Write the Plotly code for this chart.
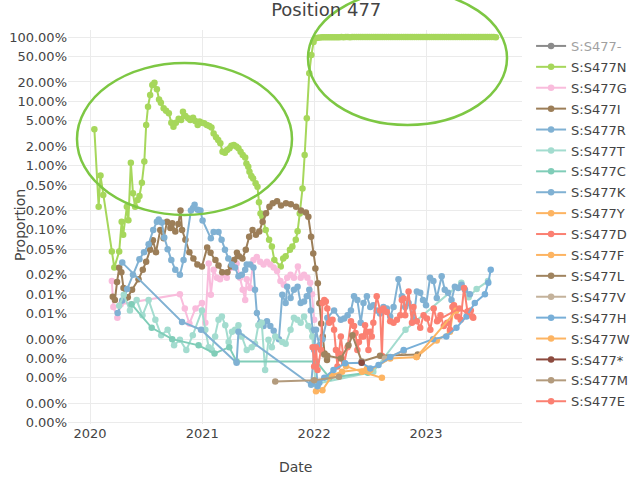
import plotly.graph_objects as go

# ---- data: sampling dates and proportion of sequences carrying each S477 variant ----
S477_dash_dates = ["2022-03-01", "2022-09-01"]
S477_dash_vals = [5e-6, 4e-6]

S477N_rise_dates = [
    "2020-01-15", "2020-01-29", "2020-02-04", "2020-02-13", "2020-03-12", "2020-03-20", "2020-04-05",
    "2020-04-13", "2020-04-18", "2020-04-30", "2020-05-05", "2020-05-13", "2020-05-20", "2020-05-27",
    "2020-06-04", "2020-06-10", "2020-06-18", "2020-06-26", "2020-07-02", "2020-07-08", "2020-07-15",
    "2020-07-22", "2020-07-29", "2020-08-06", "2020-08-13", "2020-08-19", "2020-08-28", "2020-09-05",
    "2020-09-14", "2020-09-22", "2020-09-29", "2020-10-07", "2020-10-16", "2020-10-24", "2020-10-30",
    "2020-11-07", "2020-11-16", "2020-11-23", "2020-12-02", "2020-12-09", "2020-12-17", "2020-12-23",
    "2020-12-31", "2021-01-07", "2021-01-16", "2021-01-24", "2021-01-31", "2021-02-07", "2021-02-15",
    "2021-02-22", "2021-03-01", "2021-03-08", "2021-03-16", "2021-03-23", "2021-03-31", "2021-04-06",
    "2021-04-14", "2021-04-22", "2021-04-29", "2021-05-06", "2021-05-13", "2021-05-21", "2021-05-25",
    "2021-05-31", "2021-06-04", "2021-06-10", "2021-06-16", "2021-06-24", "2021-06-30", "2021-07-05",
    "2021-07-10", "2021-07-16", "2021-07-27", "2021-08-07", "2021-08-16", "2021-08-24", "2021-09-14",
    "2021-09-22", "2021-09-30", "2021-10-14", "2021-10-22", "2021-11-02", "2021-11-08", "2021-11-15",
    "2021-11-24", "2021-12-01", "2021-12-08", "2021-12-16", "2021-12-23", "2021-12-30",
]
S477N_rise_vals = [
    0.0367, 0.0023, 0.0070, 0.0035, 0.00046, 0.00026, 0.00046,
    0.00134, 0.00084, 0.00229, 0.00141, 0.0111, 0.0037, 0.00229,
    0.00292, 0.00337, 0.0054, 0.0116, 0.0428, 0.0824, 0.125,
    0.179, 0.195, 0.154, 0.107, 0.095, 0.078, 0.071,
    0.065, 0.0465, 0.0403, 0.0465, 0.0537, 0.0512, 0.0689,
    0.0590, 0.0544, 0.0512, 0.0557, 0.0495, 0.0428, 0.0483,
    0.0465, 0.0454, 0.0428, 0.0412, 0.0393, 0.0316, 0.0276,
    0.0250, 0.0222, 0.0164, 0.0159, 0.0175, 0.0186, 0.0203,
    0.0210, 0.0198, 0.0186, 0.0164, 0.0146, 0.0134, 0.0108,
    0.0096, 0.0080, 0.0069, 0.0063, 0.0053, 0.0047, 0.0027,
    0.0018, 0.0016, 0.0010, 0.00070, 0.00055, 0.00034, 0.00027,
    0.00036, 0.00039, 0.00049, 0.00055, 0.00070, 0.00095, 0.0018,
    0.0044, 0.0146, 0.0545, 0.272, 0.525, 0.836,
]
# weekly samples once S477N is fixed
S477N_fixed_dates = [
    "2022-01-06", "2022-01-13", "2022-01-20", "2022-01-27", "2022-02-03", "2022-02-10", "2022-02-17",
    "2022-02-24", "2022-03-03", "2022-03-10", "2022-03-17", "2022-03-24", "2022-03-31", "2022-04-07",
    "2022-04-14", "2022-04-21", "2022-04-28", "2022-05-05", "2022-05-12", "2022-05-19", "2022-05-26",
    "2022-06-02", "2022-06-09", "2022-06-16", "2022-06-23", "2022-06-30", "2022-07-07", "2022-07-14",
    "2022-07-21", "2022-07-28", "2022-08-04", "2022-08-11", "2022-08-18", "2022-08-25", "2022-09-01",
    "2022-09-08", "2022-09-15", "2022-09-22", "2022-09-29", "2022-10-06", "2022-10-13", "2022-10-20",
    "2022-10-27", "2022-11-03", "2022-11-10", "2022-11-17", "2022-11-24", "2022-12-01", "2022-12-08",
    "2022-12-15", "2022-12-22", "2022-12-29",
    "2023-01-05", "2023-01-12", "2023-01-19", "2023-01-26", "2023-02-02", "2023-02-09", "2023-02-16",
    "2023-02-23", "2023-03-02", "2023-03-09", "2023-03-16", "2023-03-23", "2023-03-30", "2023-04-06",
    "2023-04-13", "2023-04-20", "2023-04-27", "2023-05-04", "2023-05-11", "2023-05-18", "2023-05-25",
    "2023-06-01", "2023-06-08", "2023-06-15", "2023-06-22", "2023-06-29", "2023-07-06", "2023-07-13",
    "2023-07-20", "2023-07-27", "2023-08-03", "2023-08-10", "2023-08-17",
]
S477N_fixed_vals = [
    0.955, 0.978, 0.986, 0.990, 0.992, 0.993, 0.994, 0.994, 0.995, 0.995,
    0.994, 0.995, 0.996, 0.995, 0.996, 0.996, 0.995, 0.996, 0.997, 0.996,
    0.996, 0.997, 0.996, 0.997, 0.997, 0.996, 0.997, 0.997, 0.996, 0.997,
    0.997, 0.998, 0.997, 0.997, 0.996, 0.997, 0.997, 0.998, 0.997, 0.997,
    0.996, 0.997, 0.997, 0.998, 0.997, 0.996, 0.997, 0.997, 0.996, 0.997,
    0.997, 0.996,
    0.997, 0.996, 0.997, 0.997, 0.998, 0.997, 0.996, 0.997, 0.997, 0.996,
    0.997, 0.997, 0.998, 0.997, 0.997, 0.996, 0.997, 0.997, 0.996, 0.997,
    0.997, 0.998, 0.997, 0.996, 0.997, 0.997, 0.996, 0.997, 0.997, 0.996,
    0.997, 0.996, 0.995,
]
S477N_dates = S477N_rise_dates + S477N_fixed_dates
S477N_vals = S477N_rise_vals + S477N_fixed_vals

S477G_dates = [
    "2020-03-12", "2020-03-17", "2020-03-30", "2020-04-10", "2020-10-20", "2020-11-05", "2020-11-20",
    "2020-12-10", "2020-12-31", "2021-01-11", "2021-01-22", "2021-01-29", "2021-02-07", "2021-02-18",
    "2021-02-28", "2021-03-11", "2021-03-22", "2021-04-07", "2021-04-23", "2021-05-04", "2021-05-13",
    "2021-05-21", "2021-05-26", "2021-06-06", "2021-06-17", "2021-06-28", "2021-07-09", "2021-07-20",
    "2021-07-31", "2021-08-11", "2021-08-22", "2021-09-02", "2021-09-13", "2021-09-24", "2021-10-05",
    "2021-10-16", "2021-10-27", "2021-11-09", "2021-11-18", "2021-11-29", "2021-12-10", "2021-12-19",
    "2021-12-25", "2022-01-01",
]
S477G_vals = [
    1.6e-4, 6.3e-5, 4.3e-5, 7.0e-5, 1.0e-4, 6.0e-5, 3.5e-5,
    6.0e-5, 7.3e-5, 3.6e-5, 3.0e-4, 9.8e-5, 2.4e-4, 1.8e-4,
    1.7e-4, 2.0e-4, 1.8e-4, 2.6e-4, 3.0e-4, 1.8e-4, 1.17e-4,
    8.1e-5, 1.7e-4, 1.25e-4, 3.4e-4, 3.8e-4, 3.2e-4, 2.9e-4,
    3.2e-4, 2.9e-4, 2.6e-4, 2.3e-4, 1.6e-4, 1.4e-4, 1.8e-4,
    2.0e-4, 1.8e-4, 2.7e-4, 1.8e-4, 2.0e-4, 1.8e-4, 1.5e-4,
    1.0e-4, 4.0e-5,
]

S477I_dates = [
    "2020-03-15", "2020-03-22", "2020-03-29", "2020-04-05", "2020-04-12", "2020-04-19", "2020-04-26",
    "2020-05-03", "2020-05-17", "2020-06-07", "2020-06-21", "2020-07-02", "2020-07-15", "2020-07-24",
    "2020-08-03", "2020-08-17", "2020-08-28", "2020-09-08", "2020-09-19", "2020-09-25", "2020-10-05",
    "2020-10-15", "2020-10-22", "2020-10-27", "2020-11-07", "2020-11-20", "2020-12-03", "2020-12-16",
    "2020-12-31", "2021-01-17", "2021-01-28", "2021-02-13", "2021-02-23", "2021-03-07", "2021-03-24",
    "2021-04-04", "2021-04-15", "2021-04-24", "2021-05-01", "2021-05-12", "2021-05-23", "2021-06-03",
    "2021-06-14", "2021-06-25", "2021-07-06", "2021-07-17", "2021-07-28", "2021-08-08", "2021-08-19",
    "2021-09-02", "2021-09-15", "2021-10-01", "2021-10-17", "2021-11-03", "2021-11-19", "2021-12-05",
    "2021-12-13", "2021-12-22", "2021-12-29", "2022-01-05", "2022-01-13", "2022-01-18", "2022-01-24",
    "2022-01-29", "2022-02-04", "2022-02-12",
]
S477I_vals = [
    9.1e-5, 8.1e-5, 1.55e-4, 2.57e-4, 2.2e-4, 1.25e-4, 8.7e-5,
    9.0e-5, 1.17e-4, 1.7e-4, 2.4e-4, 3.2e-4, 4.9e-4, 6.9e-4,
    4.5e-4, 1.0e-3, 7.4e-4, 1.34e-3, 1.07e-3, 1.27e-3, 9.4e-4,
    1.24e-3, 2.0e-3, 1.0e-3, 7.0e-4, 4.5e-4, 3.6e-4, 2.9e-4,
    2.7e-4, 5.3e-4, 4.4e-4, 3.4e-4, 2.8e-4, 2.2e-4, 2.2e-4,
    2.7e-4, 3.4e-4, 4.4e-4, 3.9e-4, 3.6e-4, 4.9e-4, 7.8e-4,
    1.0e-3, 8.4e-4, 9.4e-4, 1.34e-3, 1.82e-3, 2.3e-3, 2.6e-3,
    2.8e-3, 2.4e-3, 2.6e-3, 2.5e-3, 2.3e-3, 2.0e-3, 1.86e-3,
    1.6e-3, 7.8e-4, 4.3e-4, 2.5e-4, 1.48e-4, 7.2e-5, 3.5e-5,
    2.2e-5, 1.2e-5, 9.5e-6,
]

S477R_dates = [
    "2020-03-31", "2020-04-15", "2020-05-01", "2020-05-20", "2020-06-10", "2020-06-25", "2020-07-10",
    "2020-07-25", "2020-08-06", "2020-08-12", "2020-08-22", "2020-08-30", "2020-09-10", "2020-09-22",
    "2020-10-05", "2020-10-20", "2020-11-01", "2020-11-25", "2020-12-02", "2020-12-07", "2020-12-17",
    "2020-12-26", "2021-01-02", "2021-01-29", "2021-02-07", "2021-02-23", "2021-03-05", "2021-03-16",
    "2021-03-27", "2021-04-07", "2021-04-18", "2021-04-29", "2021-05-10", "2021-05-21", "2021-05-26",
    "2021-06-06", "2021-06-17", "2021-06-22", "2021-06-28", "2021-07-09", "2021-07-20", "2021-07-31",
    "2021-08-11", "2021-08-22", "2021-09-08", "2021-09-19", "2021-09-30", "2021-10-05", "2021-10-16",
    "2021-10-27", "2021-11-08", "2021-11-18", "2021-11-29", "2021-12-08", "2021-12-16", "2021-12-21",
    "2021-12-27", "2022-01-01", "2022-01-07", "2022-01-12",
]
S477R_vals = [
    5.1e-5, 8.0e-5, 1.2e-4, 2.0e-4, 3.5e-4, 4.5e-4, 6.0e-4,
    1.0e-3, 1.34e-3, 1.45e-3, 1.3e-3, 7.6e-4, 5.0e-4, 3.4e-4,
    2.4e-4, 2.0e-4, 3.4e-4, 2.0e-3, 2.2e-3, 2.45e-3, 2.05e-3,
    2.0e-3, 1.4e-3, 7.4e-4, 9.3e-4, 9.3e-4, 7.0e-4, 4.9e-4,
    3.6e-4, 2.9e-4, 2.6e-4, 1.9e-4, 2.0e-4, 2.4e-4, 2.9e-4,
    2.9e-4, 2.6e-4, 1.17e-4, 5.1e-5, 3.6e-5, 3.2e-5, 3.8e-5,
    3.2e-5, 2.7e-5, 2.0e-5, 9.8e-5, 7.3e-5, 1.3e-4, 8.7e-5,
    1.17e-4, 1.3e-4, 7.3e-5, 7.7e-5, 9.3e-5, 1.17e-4, 5.6e-5,
    2.8e-5, 1.35e-5, 8.5e-6, 4.1e-6,
]

S477T_dates = [
    "2020-04-05", "2020-04-20", "2020-05-10", "2020-06-01", "2020-06-20", "2020-07-10", "2020-08-01",
    "2020-08-20", "2020-09-10", "2020-10-01", "2020-10-20", "2020-11-10", "2020-12-01", "2020-12-31",
    "2021-01-11", "2021-01-22", "2021-02-01", "2021-02-12", "2021-02-23", "2021-03-06", "2021-03-17",
    "2021-03-28", "2021-04-08", "2021-04-18", "2021-04-29", "2021-05-10", "2021-05-26", "2021-06-11",
    "2021-06-22", "2021-07-03", "2021-07-14", "2021-07-25", "2021-08-05", "2021-08-16", "2021-08-27",
    "2021-09-19", "2021-09-30", "2021-10-16", "2021-10-27", "2021-11-07", "2021-11-18", "2021-11-29",
    "2021-12-13", "2021-12-26", "2022-01-05", "2022-07-13", "2022-10-26", "2023-04-26", "2023-05-20",
    "2023-06-15", "2023-07-22",
]
S477T_vals = [
    6.6e-5, 9.8e-5, 5.6e-5, 8.1e-5, 4.7e-5, 8.1e-5, 4.0e-5,
    2.3e-5, 2.8e-5, 1.6e-5, 1.95e-5, 1.35e-5, 2.3e-5, 5.6e-5,
    2.8e-5, 1.5e-5, 1.35e-5, 2.2e-5, 4.0e-5, 4.5e-5, 3.3e-5,
    1.8e-5, 2.6e-5, 2.8e-5, 3.3e-5, 2.2e-5, 1.35e-5, 1.5e-5,
    1.7e-5, 3.3e-5, 3.6e-5, 6.6e-6, 1.95e-5, 1.5e-5, 2.2e-5,
    1.8e-5, 1.7e-5, 2.8e-5, 4.3e-5, 4.0e-5, 3.6e-5, 4.5e-5,
    3.2e-5, 2.2e-5, 4.0e-6, 6.2e-6, 2.8e-5, 1.5e-4, 9.0e-5,
    1.2e-4, 1.6e-4,
]

S477C_dates = [
    "2020-05-15", "2020-07-20", "2020-09-25", "2020-12-20", "2021-02-10", "2021-03-30", "2021-04-23",
    "2022-01-08", "2022-02-20", "2022-06-25",
]
S477C_vals = [
    7.0e-5, 3.0e-5, 2.0e-5, 1.6e-5, 1.2e-5, 1.5e-5, 9.0e-6,
    9.0e-6, 5.0e-6, 6.0e-6,
]

S477K_dates = [
    "2020-04-15", "2020-10-27", "2020-12-28", "2021-04-23", "2021-04-29", "2021-12-22", "2022-01-07",
    "2022-01-18", "2022-01-28", "2022-02-13", "2022-03-07", "2022-03-29", "2022-04-09", "2022-04-20",
    "2022-05-01", "2022-05-11", "2022-05-22", "2022-06-02", "2022-06-11", "2022-06-22", "2022-07-03",
    "2022-07-13", "2022-07-24", "2022-08-04", "2022-08-15", "2022-08-26", "2022-09-06", "2022-09-17",
    "2022-10-03", "2022-10-14", "2022-10-25", "2022-11-05", "2022-11-21", "2022-12-02", "2022-12-13",
    "2022-12-22", "2023-01-01", "2023-01-14", "2023-01-25", "2023-02-05", "2023-02-21", "2023-03-03",
    "2023-03-14", "2023-03-25", "2023-04-05", "2023-04-16", "2023-04-27", "2023-05-08", "2023-05-24",
]
S477K_vals = [
    3.1e-4, 3.7e-5, 2.8e-5, 8.6e-6, 2.6e-5, 3.9e-6, 2.8e-5,
    1.6e-5, 2.0e-5, 4.3e-5, 5.6e-5, 4.0e-5, 4.2e-5, 4.7e-5,
    5.6e-5, 9.3e-5, 8.1e-5, 3.6e-5, 7.3e-5, 9.3e-5, 6.3e-5,
    6.7e-5, 5.6e-5, 5.0e-5, 6.3e-5, 6.0e-5, 4.5e-5, 6.3e-5,
    1.7e-4, 9.3e-5, 6.3e-5, 7.3e-5, 4.0e-5, 1.1e-4, 1.05e-4,
    8.1e-5, 6.7e-5, 1.8e-4, 1.6e-4, 8.7e-5, 1.9e-4, 1.17e-4,
    1.05e-4, 8.1e-5, 1.3e-4, 1.25e-4, 1.4e-4, 1.17e-4, 1.0e-4,
]

S477Y_dates = [
    "2022-01-07", "2022-01-28", "2022-03-01", "2022-04-02", "2022-06-22", "2022-07-03", "2022-09-06",
    "2022-12-01", "2023-02-05", "2023-03-20", "2023-04-02",
]
S477Y_vals = [
    3.1e-6, 3.2e-6, 5.5e-6, 6.2e-6, 6.9e-6, 6.6e-6, 1.0e-5,
    1.05e-5, 1.9e-5, 2.6e-5, 6.6e-5,
]

S477D_dates = [
    "2021-12-27", "2022-01-01", "2022-01-07", "2022-01-12", "2022-01-23", "2022-01-28", "2022-02-03",
    "2022-02-08", "2022-02-13", "2022-02-19", "2022-03-02", "2022-03-07", "2022-03-13", "2022-03-18",
    "2022-03-23", "2022-03-29", "2022-04-09", "2022-04-20", "2022-05-01", "2022-05-11", "2022-05-16",
    "2022-05-22", "2022-05-27", "2022-06-05", "2022-06-11", "2022-06-16", "2022-06-22", "2022-06-27",
    "2022-07-03", "2022-07-08", "2022-07-13", "2022-07-24", "2022-08-04", "2022-08-10", "2022-08-15",
    "2022-08-26", "2022-09-06", "2022-09-17", "2022-09-28", "2022-10-09", "2022-10-14", "2022-10-20",
    "2022-10-25", "2022-11-05", "2022-11-16", "2022-11-21", "2022-12-02", "2022-12-13", "2022-12-24",
    "2023-01-04", "2023-01-15", "2023-01-26", "2023-02-06", "2023-02-17", "2023-02-28", "2023-03-11",
    "2023-03-20", "2023-03-28", "2023-04-02", "2023-04-13", "2023-04-24", "2023-05-05", "2023-05-16",
    "2023-05-27", "2023-06-04",
]
S477D_vals = [
    1.5e-5, 7.5e-6, 1.5e-5, 6.6e-6, 1.35e-5, 7.3e-5, 8.1e-5,
    7.7e-5, 6.0e-5, 3.6e-5, 4.0e-5, 2.8e-5, 1.35e-5, 7.5e-6,
    1.2e-5, 2.2e-5, 8.5e-6, 1.5e-5, 3.8e-5, 3.2e-5, 2.5e-5,
    1.35e-5, 1.8e-5, 2.2e-5, 2.2e-5, 3.3e-5, 2.6e-5, 1.35e-5,
    2.6e-5, 2.2e-5, 3.6e-5, 9.3e-5, 5.6e-5, 1.1e-5, 6.0e-5,
    5.3e-5, 3.8e-5, 3.6e-5, 4.0e-5, 4.7e-5, 8.1e-5, 8.6e-5,
    4.7e-5, 1.1e-4, 3.6e-5, 6.3e-5, 3.8e-5, 3.0e-5, 4.7e-5,
    4.2e-5, 2.8e-5, 6.0e-5, 3.8e-5, 4.7e-5, 3.2e-5, 3.6e-5,
    2.8e-5, 6.3e-5, 6.7e-5, 4.5e-5, 4.0e-5, 1.25e-4, 5.4e-5,
    5.6e-5, 4.3e-5,
]

S477F_dates = ["2022-04-15", "2022-06-06", "2022-08-10"]
S477F_vals = [7.6e-6, 6.2e-6, 5.0e-6]

S477L_dates = [
    "2022-02-03", "2022-02-13", "2022-03-29", "2022-04-23", "2022-05-06", "2022-06-05", "2022-08-04",
    "2022-12-05",
]
S477L_vals = [1.15e-5, 1.1e-5, 1.0e-5, 1.6e-5, 2.3e-5, 9.0e-6, 1.1e-5, 1.15e-5]

S477V_dates = ["2022-08-20", "2022-10-20"]
S477V_vals = [1.0e-5, 1.3e-5]

S477H_dates = [
    "2021-12-24", "2022-01-12", "2022-01-18", "2022-02-03", "2022-03-05", "2022-04-12", "2022-06-05",
    "2022-07-03", "2022-07-30", "2022-09-06", "2022-10-20", "2023-01-24", "2023-03-08", "2023-04-10",
    "2023-05-13", "2023-06-09", "2023-07-12", "2023-07-23", "2023-07-31",
]
S477H_vals = [
    4.2e-6, 3.7e-6, 4.2e-6, 5.0e-6, 6.6e-6, 8.4e-6, 8.6e-6,
    7.0e-6, 7.9e-6, 1.05e-5, 1.35e-5, 2.0e-5, 2.2e-5, 3.0e-5,
    4.5e-5, 7.3e-5, 1.0e-4, 1.5e-4, 2.4e-4,
]

S477W_dates = ["2022-12-01", "2023-04-10"]
S477W_vals = [1.05e-5, 5.6e-5]

S477_stop_dates = ["2022-06-05"]
S477_stop_vals = [8.6e-6]

S477M_dates = ["2021-08-27", "2022-01-01", "2022-03-23"]
S477M_vals = [4.4e-6, 4.6e-6, 5.2e-6]

S477E_dates = ["2023-02-10", "2023-04-20", "2023-06-01"]
S477E_vals = [4.0e-5, 6.0e-5, 4.5e-5]

series = [
    ("S:S477-", S477_dash_dates, S477_dash_vals, "#1a1a1a", "legendonly"),
    ("S:S477N", S477N_dates, S477N_vals, "#a6d75b", True),
    ("S:S477G", S477G_dates, S477G_vals, "#f9bcdc", True),
    ("S:S477I", S477I_dates, S477I_vals, "#9c7e58", True),
    ("S:S477R", S477R_dates, S477R_vals, "#80b1d3", True),
    ("S:S477T", S477T_dates, S477T_vals, "#a3dccf", True),
    ("S:S477C", S477C_dates, S477C_vals, "#80cdb8", True),
    ("S:S477K", S477K_dates, S477K_vals, "#80b1d3", True),
    ("S:S477Y", S477Y_dates, S477Y_vals, "#fdb462", True),
    ("S:S477D", S477D_dates, S477D_vals, "#fb8072", True),
    ("S:S477F", S477F_dates, S477F_vals, "#fdb462", True),
    ("S:S477L", S477L_dates, S477L_vals, "#a0845f", True),
    ("S:S477V", S477V_dates, S477V_vals, "#c4b29b", True),
    ("S:S477H", S477H_dates, S477H_vals, "#78afd8", True),
    ("S:S477W", S477W_dates, S477W_vals, "#fdb462", True),
    ("S:S477*", S477_stop_dates, S477_stop_vals, "#8c4a3e", True),
    ("S:S477M", S477M_dates, S477M_vals, "#b39b7d", True),
    ("S:S477E", S477E_dates, S477E_vals, "#fb8072", True),
]

y_tick_vals = [1, 0.5, 0.2, 0.1, 0.05, 0.02, 0.01, 0.005, 0.002, 0.001,
               5e-4, 2e-4, 1e-4, 5e-5, 2e-5, 1e-5, 5e-6, 2e-6, 1e-6]

FONT = "DejaVu Sans"
TXT = "#444444"

fig = go.Figure()
for name, dates, vals, color, vis in series:
    fig.add_trace(go.Scatter(
        x=dates, y=vals, name=name, mode="lines+markers",
        line=dict(color=color, width=2),
        marker=dict(color=color, size=6.5),
        visible=vis, legendgroup=name,
    ))

# highlight rings around the S477N rise and the fixation period
ring = dict(type="circle", xref="paper", yref="paper",
            line=dict(color="#7dc743", width=2.5), fillcolor="rgba(0,0,0,0)", layer="above")
fig.add_shape(x0=0.0198, x1=0.4934, y0=0.5305, y1=0.9162, **ring)
fig.add_shape(x0=0.5286, x1=0.9670, y0=0.7589, y1=1.099, **ring)

fig.add_annotation(text="Proportion", xref="paper", yref="paper", x=-0.1057, y=0.505,
                   xanchor="center", yanchor="middle", textangle=-90, showarrow=False,
                   font=dict(family=FONT, size=14, color=TXT))
fig.add_annotation(text="Date", xref="paper", yref="paper", x=0.5, y=-0.109,
                   xanchor="center", yanchor="middle", showarrow=False,
                   font=dict(family=FONT, size=14, color=TXT))

fig.update_layout(
    width=631, height=482,
    template="plotly_white",
    paper_bgcolor="white", plot_bgcolor="white",
    margin=dict(l=68, r=109, t=30, b=58, autoexpand=False),
    font=dict(family=FONT, size=13, color=TXT),
    title=dict(text="Position 477", x=0.517, xanchor="center", y=0.98, yref="container",
               yanchor="middle", font=dict(family=FONT, size=18, color=TXT)),
    legend=dict(font=dict(family=FONT, size=13, color=TXT), x=1.02, xanchor="left",
                y=0.9975, yanchor="top", tracegroupgap=1.0),
    xaxis=dict(type="date", range=["2019-10-21", "2023-11-10"], dtick="M12", tickformat="%Y",
               showgrid=True, gridcolor="#ebebeb", zeroline=False, showline=False, ticks=""),
    yaxis=dict(type="log", range=[-6.019, 0.109], tickvals=y_tick_vals, tickformat=".2%",
               showgrid=True, gridcolor="#ebebeb", zeroline=False, showline=False, ticks=""),
)

fig.write_html("out.html")
